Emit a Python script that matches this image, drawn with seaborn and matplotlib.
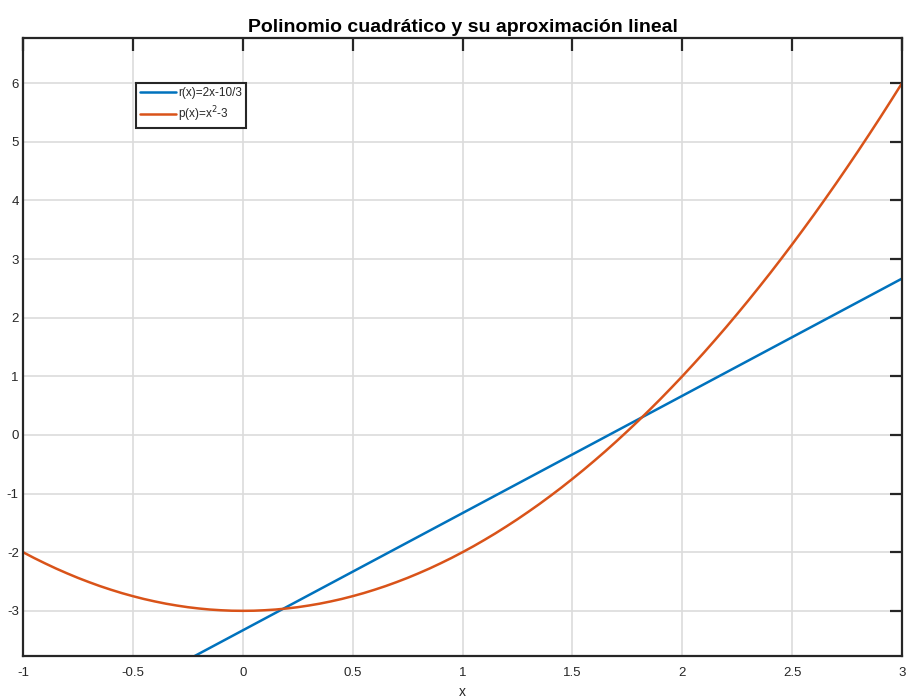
import matplotlib
matplotlib.use("Agg")
import matplotlib.pyplot as plt
import seaborn as sns

# sample points
x_vals = [-1.0, -0.95, -0.9, -0.85, -0.8, -0.75, -0.7, -0.65, -0.6, -0.55, -0.5,
          -0.45, -0.4, -0.35, -0.3, -0.25, -0.2, -0.15, -0.1, -0.05, 0.0,
          0.05, 0.1, 0.15, 0.2, 0.25, 0.3, 0.35, 0.4, 0.45, 0.5,
          0.55, 0.6, 0.65, 0.7, 0.75, 0.8, 0.85, 0.9, 0.95, 1.0,
          1.05, 1.1, 1.15, 1.2, 1.25, 1.3, 1.35, 1.4, 1.45, 1.5,
          1.55, 1.6, 1.65, 1.7, 1.75, 1.8, 1.85, 1.9, 1.95, 2.0,
          2.05, 2.1, 2.15, 2.2, 2.25, 2.3, 2.35, 2.4, 2.45, 2.5,
          2.55, 2.6, 2.65, 2.7, 2.75, 2.8, 2.85, 2.9, 2.95, 3.0]
p_vals = [-2.000, -2.098, -2.190, -2.278, -2.360, -2.438, -2.510, -2.578, -2.640, -2.698, -2.750,
          -2.798, -2.840, -2.878, -2.910, -2.938, -2.960, -2.978, -2.990, -2.998, -3.000,
          -2.998, -2.990, -2.978, -2.960, -2.938, -2.910, -2.878, -2.840, -2.798, -2.750,
          -2.698, -2.640, -2.578, -2.510, -2.438, -2.360, -2.278, -2.190, -2.098, -2.000,
          -1.898, -1.790, -1.678, -1.560, -1.438, -1.310, -1.178, -1.040, -0.898, -0.750,
          -0.598, -0.440, -0.278, -0.110, 0.063, 0.240, 0.423, 0.610, 0.803, 1.000,
          1.203, 1.410, 1.623, 1.840, 2.063, 2.290, 2.523, 2.760, 3.003, 3.250,
          3.503, 3.760, 4.023, 4.290, 4.563, 4.840, 5.123, 5.410, 5.703, 6.000]
r_x = [-1.0, 3.0]
r_vals = [-5.333, 2.667]

x_ticks = [-1, -0.5, 0, 0.5, 1, 1.5, 2, 2.5, 3]
x_tick_labels = ["-1", "-0.5", "0", "0.5", "1", "1.5", "2", "2.5", "3"]
y_ticks = [-3, -2, -1, 0, 1, 2, 3, 4, 5, 6]
y_tick_labels = ["-3", "-2", "-1", "0", "1", "2", "3", "4", "5", "6"]

sns.set_style("white")
plt.rcParams['font.family'] = ['Liberation Sans', 'DejaVu Sans']

fig = plt.figure(figsize=(9.06, 7.0), dpi=100)
ax = fig.add_axes([0.0254, 0.0629, 0.9702, 0.8828])

blue = "#0072BD"
orange = "#D95319"
sns.lineplot(x=r_x, y=r_vals, ax=ax, color=blue, linewidth=1.8, label="r(x)=2x-10/3")
sns.lineplot(x=x_vals, y=p_vals, ax=ax, color=orange, linewidth=1.8, label="p(x)=x$^2$-3")

ax.set_xlim(-1, 3)
ax.set_ylim(-3.77, 6.77)
ax.set_xticks(x_ticks)
ax.set_xticklabels(x_tick_labels)
ax.set_yticks(y_ticks)
ax.set_yticklabels(y_tick_labels)
ax.grid(True, color="#dcdcdc", linewidth=1.2)
ax.set_axisbelow(True)
for s in ax.spines.values():
    s.set_color("#262626")
    s.set_linewidth(1.6)
    s.set_visible(True)
ax.tick_params(direction="in", length=9, width=1.6, color="#262626",
               top=True, right=True, labelsize=9.5, labelcolor="#262626")
ax.tick_params(axis="x", pad=8)
ax.tick_params(axis="y", pad=3)

ax.set_title("Polinomio cuadrático y su aproximación lineal", fontsize=14,
             fontweight="bold", pad=4, color="black")
ax.set_xlabel("x", fontsize=10, color="#262626", labelpad=4)
ax.set_ylabel("")

leg = ax.legend(loc="upper left", bbox_to_anchor=(0.1286, 0.927), fontsize=8.5,
                frameon=True, fancybox=False, edgecolor="#262626", framealpha=1,
                borderpad=0.35, handlelength=3.0, handletextpad=0.2, labelspacing=0.45,
                borderaxespad=0)
leg.get_frame().set_linewidth(1.5)

fig.savefig("out.png", dpi=100)
